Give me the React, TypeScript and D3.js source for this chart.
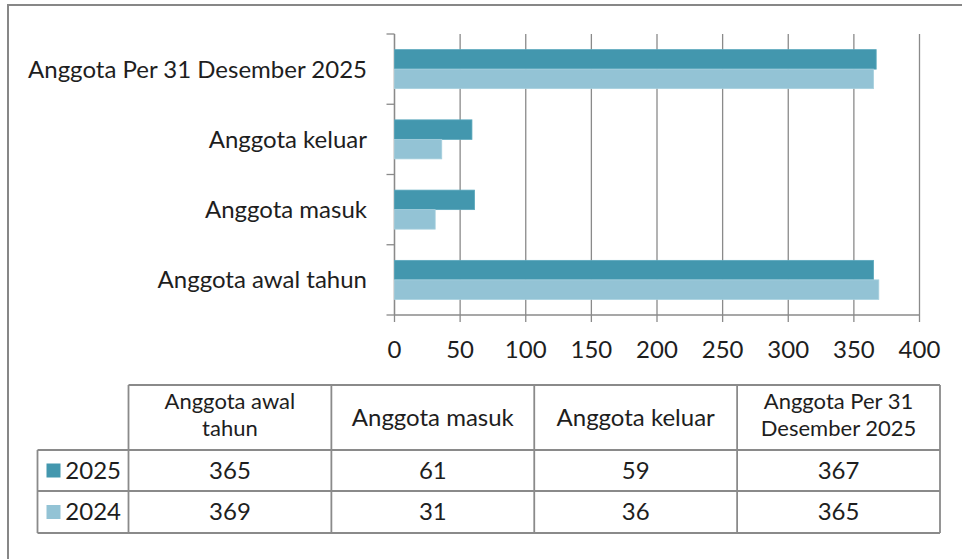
import React from "react";
import * as d3 from "d3";

const categories = ["Anggota awal tahun", "Anggota masuk", "Anggota keluar", "Anggota Per 31 Desember 2025"];
const headerLines = [["Anggota awal", "tahun"], ["Anggota masuk"], ["Anggota keluar"], ["Anggota Per 31", "Desember 2025"]];
const seriesNames = ["2025", "2024"];
const values2025 = [365, 61, 59, 367];
const values2024 = [369, 31, 36, 365];
const xTicks = [0, 50, 100, 150, 200, 250, 300, 350, 400];

const colors: Record<string, string> = { "2025": "#4397AE", "2024": "#93C3D5" };
const strokes: Record<string, string> = { "2025": "#5BA8BC", "2024": "#A7D0DE" };

const FONT = "Lato, 'Open Sans', sans-serif";
const TXT = "#1e1e1e";
const GRID = "#8a8a8a";

export default function App() {
  const W = 962, H = 559;
  const plotLeft = 394.5, plotRight = 919.5, plotTop = 34, plotBottom = 315;
  const x = d3.scaleLinear().domain([0, 400]).range([plotLeft, plotRight]);
  const displayCats = categories.slice().reverse();
  const y = d3.scaleBand<string>().domain(displayCats).range([plotTop, plotBottom]).padding(0);
  const ys = d3.scaleBand<string>().domain(seriesNames).range([0, y.bandwidth()]).paddingInner(0).paddingOuter(0.8);
  const seriesValues: Record<string, number[]> = { "2025": values2025, "2024": values2024 };

  // table
  const tLeft = 37.5, tColStart = 128.5, tRight = 940;
  const tTop = 385, tHeadBottom = 450, tRow1Bottom = 491, tBottom = 533;
  const cx = d3.scaleBand<string>().domain(categories).range([tColStart, tRight]);
  const rowBounds = [[tHeadBottom, tRow1Bottom], [tRow1Bottom, tBottom]];
  const fs = 24;
  const hfs = 22;

  return (
    <svg width={W} height={H} style={{ position: "absolute", left: 0, top: 0, background: "#fff" }} fontFamily={FONT}>
      <rect x={0} y={0} width={W} height={H} fill="#fff" />
      <rect x={8} y={5} width={W + 10} height={H + 10} fill="none" stroke="#878787" strokeWidth={2} />

      {/* gridlines */}
      {xTicks.map((t) => (
        <line key={"g" + t} x1={x(t)} x2={x(t)} y1={plotTop} y2={plotBottom + 7} stroke={GRID} strokeWidth={1.3} />
      ))}
      {/* category axis */}
      <line x1={plotLeft} x2={plotLeft} y1={plotTop} y2={plotBottom} stroke={GRID} strokeWidth={1.3} />
      {d3.range(displayCats.length + 1).map((i) => {
        const yy = plotTop + i * y.step();
        return <line key={"ct" + i} x1={plotLeft - 8} x2={plotLeft} y1={yy} y2={yy} stroke={GRID} strokeWidth={1.3} />;
      })}
      <line x1={plotLeft} x2={plotRight} y1={plotBottom} y2={plotBottom} stroke={GRID} strokeWidth={1.3} />

      {/* bars */}
      {seriesNames.map((s) =>
        categories.map((c, i) => (
          <rect
            key={s + c}
            x={x(0)}
            y={(y(c) as number) + (ys(s) as number)}
            width={x(seriesValues[s][i]) - x(0)}
            height={ys.bandwidth()}
            fill={colors[s]}
            stroke={strokes[s]}
            strokeWidth={0.8}
          />
        ))
      )}

      {/* category labels */}
      {displayCats.map((c) => (
        <text key={"cl" + c} x={367} y={(y(c) as number) + y.bandwidth() / 2} dy="0.35em" textAnchor="end" fontSize={fs} fill={TXT}>
          {c}
        </text>
      ))}
      {/* x tick labels */}
      {xTicks.map((t) => (
        <text key={"xl" + t} x={x(t)} y={350} dy="0.35em" textAnchor="middle" fontSize={fs} fill={TXT}>
          {t}
        </text>
      ))}

      {/* data table */}
      <g stroke="#8a8a8a" strokeWidth={1.8} fill="none">
        <line x1={tColStart} x2={tRight} y1={tTop} y2={tTop} />
        <line x1={tLeft} x2={tRight} y1={tHeadBottom} y2={tHeadBottom} />
        <line x1={tLeft} x2={tRight} y1={tRow1Bottom} y2={tRow1Bottom} />
        <line x1={tLeft} x2={tRight} y1={tBottom} y2={tBottom} />
        <line x1={tLeft} x2={tLeft} y1={tHeadBottom} y2={tBottom} />
        {categories.map((c) => (
          <line key={"cv" + c} x1={cx(c)} x2={cx(c)} y1={tTop} y2={tBottom} />
        ))}
        <line x1={tRight} x2={tRight} y1={tTop} y2={tBottom} />
      </g>
      {categories.map((c, i) => {
        const lines = headerLines[i];
        const cxm = (cx(c) as number) + cx.bandwidth() / 2;
        const mid = lines.length > 1 ? 415 : 418;
        return lines.map((ln, j) => (
          <text key={"h" + c + j} x={cxm} y={mid + (j - (lines.length - 1) / 2) * 26.5} dy="0.35em" textAnchor="middle" fontSize={lines.length > 1 ? hfs : fs} fill={TXT}>
            {ln}
          </text>
        ));
      })}
      {seriesNames.map((s, r) => {
        const cy = (rowBounds[r][0] + rowBounds[r][1]) / 2;
        return (
          <g key={"row" + s}>
            <rect x={46.5} y={cy - 7} width={14} height={14} fill={colors[s]} />
            <text x={121} y={cy} dy="0.35em" textAnchor="end" fontSize={fs} fill={TXT}>{s}</text>
            {categories.map((c, i) => (
              <text key={"v" + s + c} x={(cx(c) as number) + cx.bandwidth() / 2} y={cy} dy="0.35em" textAnchor="middle" fontSize={fs} fill={TXT}>
                {seriesValues[s][i]}
              </text>
            ))}
          </g>
        );
      })}
    </svg>
  );
}
